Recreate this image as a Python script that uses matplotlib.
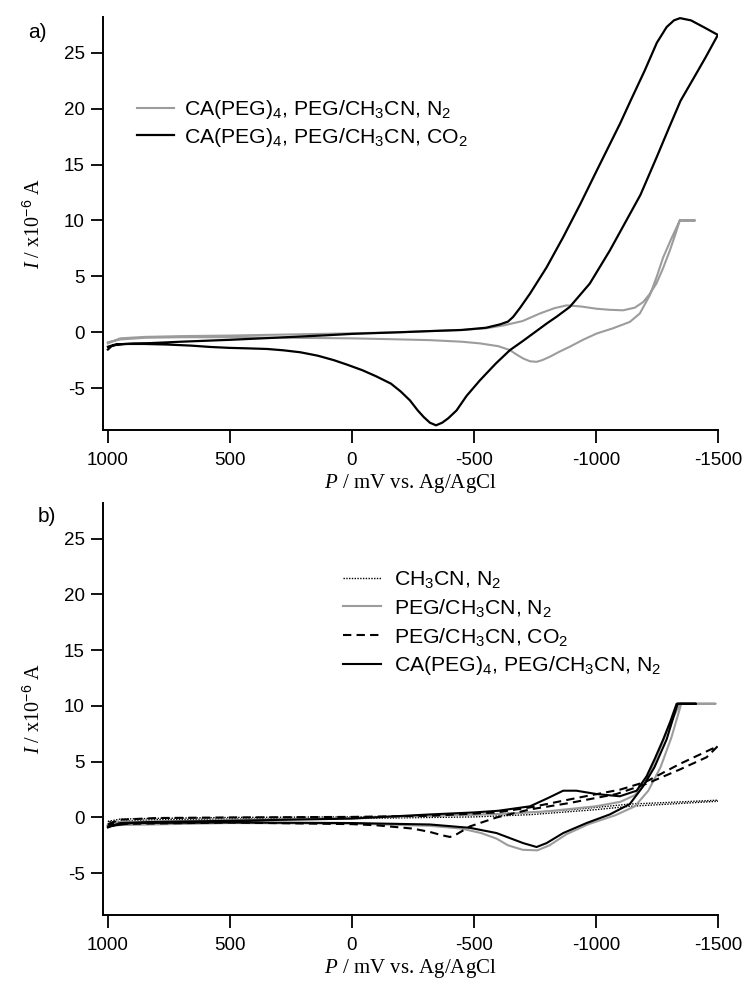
import matplotlib
matplotlib.use('Agg')
import matplotlib.pyplot as plt

plt.rcParams['font.family'] = ['Liberation Sans', 'DejaVu Sans']
plt.rcParams['mathtext.fontset'] = 'custom'
plt.rcParams['mathtext.rm'] = 'Liberation Sans'
plt.rcParams['mathtext.it'] = 'Liberation Serif:italic'
plt.rcParams['axes.unicode_minus'] = False

# --- panel a: CA(PEG)4 in PEG/CH3CN ---
# N2, scan towards -1500 then back (mV, uA)
a_n2_fwd_E = [1000, 950, 850, 700, 500, 250, 0, -200, -320, -450, -550, -620, -700,
              -770, -830, -880, -940, -1003, -1060, -1112, -1160, -1194, -1220, -1248,
              -1275, -1303, -1325, -1344, -1406]
a_n2_fwd_I = [-1.0, -0.55, -0.42, -0.35, -0.3, -0.2, -0.1, 0.0, 0.1, 0.2, 0.35, 0.6, 1.0,
              1.67, 2.15, 2.4, 2.3, 2.1, 2.0, 1.96, 2.2, 2.7, 3.4, 4.35,
              5.7, 7.3, 8.7, 10.0, 10.0]
a_n2_rev_E = [-1406, -1344, -1310, -1276, -1250, -1221, -1180, -1139, -1070, -1003, -950,
              -893, -850, -811, -780, -757, -730, -702, -675, -648, -600, -525, -450,
              -320, -150, 0, 250, 500, 700, 850, 950, 1000]
a_n2_rev_I = [10.0, 10.0, 8.4, 6.7, 5.0, 3.3, 1.67, 0.92, 0.35, -0.12, -0.65,
              -1.3, -1.75, -2.2, -2.5, -2.65, -2.6, -2.35, -2.0, -1.6, -1.25, -1.0, -0.85,
              -0.71, -0.62, -0.55, -0.5, -0.45, -0.45, -0.5, -0.65, -0.9]
# CO2
a_co2_fwd_E = [1000, 985, 960, 900, 850, 700, 500, 300, 100, 0, -200, -320, -450, -550,
               -607, -640, -661, -690, -730, -798, -866, -937, -1000, -1100, -1142,
               -1200, -1250, -1290, -1320, -1345, -1390, -1450, -1500]
a_co2_fwd_I = [-1.55, -1.25, -1.1, -1.02, -1.0, -0.85, -0.68, -0.48, -0.27, -0.15, 0.0, 0.1, 0.2, 0.4,
               0.7, 0.95, 1.37, 2.2, 3.45, 5.8, 8.5, 11.5, 14.3, 18.7, 20.7,
               23.4, 25.9, 27.3, 27.9, 28.1, 27.9, 27.2, 26.6]
a_co2_rev_E = [-1500, -1450, -1400, -1347, -1300, -1250, -1183, -1120, -1057, -975, -893,
               -840, -798, -750, -700, -648, -590, -525, -470, -429, -395, -370, -345,
               -320, -295, -270, -238, -200, -160, -100, -43, 20, 74, 140, 210, 280, 347,
               420, 503, 580, 659, 760, 854, 930, 970, 1000]
a_co2_rev_I = [26.6, 24.6, 22.7, 20.7, 18.3, 15.7, 12.3, 9.8, 7.3, 4.35, 2.26,
               1.4, 0.77, 0.0, -0.8, -1.6, -2.8, -4.3, -5.7, -7.0, -7.7, -8.1, -8.33,
               -8.1, -7.6, -7.0, -6.1, -5.3, -4.6, -3.95, -3.4, -2.9, -2.5, -2.1, -1.8, -1.62, -1.5,
               -1.45, -1.4, -1.32, -1.2, -1.1, -1.05, -1.05, -1.1, -1.3]

# --- panel b: controls ---
b_mecn_fwd_E = [1000, 950, 800, 500, 0, -320, -500, -730, -900, -1000, -1139, -1300, -1500]
b_mecn_fwd_I = [-0.35, -0.15, -0.08, 0.0, 0.05, 0.15, 0.25, 0.45, 0.7, 0.9, 1.2, 1.35, 1.55]
b_mecn_rev_E = [-1500, -1300, -1139, -1000, -730, -500, -320, 0, 500, 800, 1000]
b_mecn_rev_I = [1.45, 1.2, 1.0, 0.7, 0.25, 0.05, 0.0, -0.1, -0.15, -0.2, -0.4]

b_peg_fwd_E = [1000, 950, 500, 0, -320, -600, -800, -1000, -1100, -1160, -1210, -1260,
               -1300, -1345, -1490]
b_peg_fwd_I = [-0.7, -0.4, -0.25, -0.05, 0.15, 0.3, 0.55, 1.0, 1.4, 2.0, 3.5, 6.0,
               8.2, 10.2, 10.2]
b_peg_rev_E = [-1490, -1350, -1310, -1265, -1215, -1160, -1080, -970, -880, -810, -760,
               -700, -640, -593, -530, -450, -320, 0, 500, 1000]
b_peg_rev_I = [10.2, 10.2, 7.2, 4.5, 2.4, 1.0, 0.2, -0.6, -1.5, -2.5, -2.95,
               -2.9, -2.5, -1.9, -1.4, -1.0, -0.75, -0.55, -0.5, -0.7]

b_pegco2_fwd_E = [1000, 950, 800, 500, 0, -320, -593, -730, -934, -1100, -1205, -1344, -1500]
b_pegco2_fwd_I = [-0.6, -0.2, -0.05, 0.0, 0.05, 0.15, 0.45, 0.9, 1.8, 2.5, 3.2, 4.8, 6.4]
b_pegco2_rev_E = [-1500, -1454, -1344, -1205, -1084, -893, -730, -593, -484, -430, -402,
                  -370, -320, -250, -100, 0, 500, 1000]
b_pegco2_rev_I = [6.4, 5.4, 4.3, 3.0, 2.1, 1.3, 0.72, 0.0, -0.8, -1.5, -1.75,
                  -1.6, -1.3, -1.0, -0.7, -0.6, -0.45, -0.6]

b_ca_fwd_E = [1000, 950, 800, 500, 0, -320, -500, -600, -730, -800, -866, -920, -1003,
              -1098, -1167, -1208, -1240, -1276, -1305, -1331, -1410]
b_ca_fwd_I = [-0.9, -0.5, -0.4, -0.3, -0.1, 0.27, 0.45, 0.6, 1.0, 1.7, 2.4, 2.4, 2.1,
              1.9, 2.4, 3.7, 5.2, 7.0, 8.6, 10.2, 10.2]
b_ca_rev_E = [-1410, -1335, -1290, -1240, -1194, -1139, -1057, -962, -866, -798, -757,
              -702, -593, -484, -320, 0, 500, 900, 1000]
b_ca_rev_I = [10.2, 10.2, 7.0, 4.5, 2.8, 1.2, 0.27, -0.5, -1.4, -2.3, -2.65,
              -2.3, -1.4, -0.93, -0.63, -0.5, -0.45, -0.5, -0.8]

x_ticks = [1000, 500, 0, -500, -1000, -1500]
y_ticks = [-5, 0, 5, 10, 15, 20, 25]
GRAY = '#9c9c9c'

fig = plt.figure(figsize=(7.48, 9.84), dpi=100)
ax_a = fig.add_axes([0.1377, 0.563, 0.822, 0.4197])
ax_b = fig.add_axes([0.1377, 0.0701, 0.822, 0.4187])


def style_axis(ax):
    ax.set_xlim(1020, -1500)
    ax.set_ylim(-8.75, 28.2)
    ax.set_xticks(x_ticks)
    ax.set_yticks(y_ticks)
    for s in ['top', 'right']:
        ax.spines[s].set_visible(False)
    for s in ['left', 'bottom']:
        ax.spines[s].set_linewidth(1.4)
    ax.tick_params(axis='both', direction='out', length=9, width=1.3, labelsize=13.5)
    ax.tick_params(axis='x', pad=7)
    ax.tick_params(axis='y', pad=4)
    ax.set_xlabel('$P$ / mV vs. Ag/AgCl', family='Liberation Serif', fontsize=15, labelpad=2)
    ax.set_ylabel('$I$ / x10$^{-6}$ A', family='Liberation Serif', fontsize=14.5, labelpad=14)


# panel a
l1, = ax_a.plot(a_n2_fwd_E + a_n2_rev_E, a_n2_fwd_I + a_n2_rev_I, color=GRAY, lw=1.5)
l2, = ax_a.plot(a_co2_fwd_E + a_co2_rev_E, a_co2_fwd_I + a_co2_rev_I, color='black', lw=1.6)
style_axis(ax_a)
ax_a.legend([l1, l2],
            ['CA(PEG)$_4$, PEG/CH$_3$CN, N$_2$', 'CA(PEG)$_4$, PEG/CH$_3$CN, CO$_2$'],
            loc='upper left', bbox_to_anchor=(0.055, 0.803), frameon=False, fontsize=15.3,
            handlelength=1.75, handletextpad=0.45, labelspacing=0.2, borderpad=0, borderaxespad=0)

# panel b
m1, = ax_b.plot(b_mecn_fwd_E + b_mecn_rev_E, b_mecn_fwd_I + b_mecn_rev_I, color='black',
                lw=1.0, linestyle=(0, (1, 1)))
m2, = ax_b.plot(b_peg_fwd_E + b_peg_rev_E, b_peg_fwd_I + b_peg_rev_I, color=GRAY, lw=1.5)
m3, = ax_b.plot(b_pegco2_fwd_E + b_pegco2_rev_E, b_pegco2_fwd_I + b_pegco2_rev_I,
                color='black', lw=1.5, linestyle=(0, (4, 2.5)))
m4, = ax_b.plot(b_ca_fwd_E + b_ca_rev_E, b_ca_fwd_I + b_ca_rev_I, color='black', lw=1.5)
style_axis(ax_b)
ax_b.legend([m1, m2, m3, m4],
            ['CH$_3$CN, N$_2$', 'PEG/CH$_3$CN, N$_2$', 'PEG/CH$_3$CN, CO$_2$',
             'CA(PEG)$_4$, PEG/CH$_3$CN, N$_2$'],
            loc='upper left', bbox_to_anchor=(0.39, 0.84), frameon=False, fontsize=15.3,
            handlelength=1.8, handletextpad=0.6, labelspacing=0.32, borderpad=0, borderaxespad=0)

fig.text(37 / 748, 1 - 32 / 984, 'a)', fontsize=15, ha='center', va='center')
fig.text(47 / 748, 1 - 516 / 984, 'b)', fontsize=15, ha='center', va='center')

fig.savefig('out.png', dpi=100)
